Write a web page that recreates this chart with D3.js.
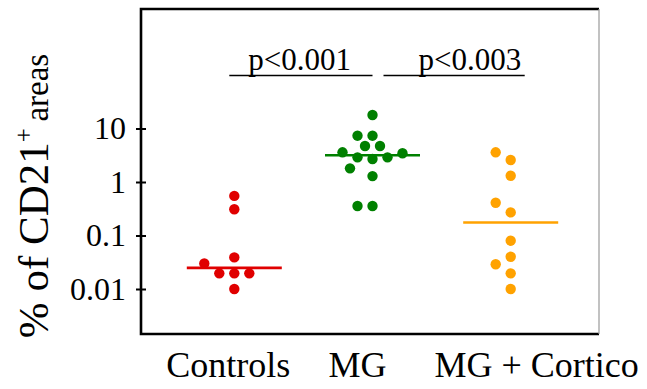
<!DOCTYPE html>
<html>
<head>
<meta charset="utf-8">
<script src="https://cdn.jsdelivr.net/npm/d3@7/dist/d3.min.js"></script>
<style>
  html, body { margin: 0; padding: 0; background: #fff; }
  svg { display: block; }
  text { font-family: "Liberation Serif", "Times New Roman", serif; fill: #000; }
</style>
</head>
<body>
<svg id="chart" width="647" height="389"></svg>
<script>
// ---------- data ----------
const categories = ["Controls", "MG", "MG + Cortico"];
const controlsValues = [0.01, 0.0196, 0.0196, 0.0196, 0.039, 0.030, 0.31, 0.55];
const mgValues = [17.9, 7.34, 7.34, 4.71, 4.71, 2.69, 2.89, 2.89, 3.59, 3.44, 1.80, 1.29, 0.356, 0.356];
const corticoValues = [0.01, 0.0196, 0.029, 0.040, 0.080, 0.27, 0.41, 1.31, 2.58, 3.59];
const seriesColors = ["#e00000", "#008000", "#ffa200"];
const yTickValues = [0.01, 0.1, 1, 10];
const yTickLabels = ["0.01", "0.1", "1", "10"];
const comparisonFrom = ["Controls", "MG"];
const comparisonTo = ["MG", "MG + Cortico"];
const comparisonLabels = ["p<0.001", "p<0.003"];

const groups = [controlsValues, mgValues, corticoValues];

// ---------- layout ----------
const W = 647, H = 389;
const box = { left: 141, top: 9, right: 599, bottom: 334 };
const dotR = 5.2;
const labelDx = [-6, -15, 26];

const svg = d3.select("#chart");
svg.append("rect").attr("width", W).attr("height", H).attr("fill", "#fff");

const x = d3.scalePoint().domain(categories).range([234.3, 510.7]);
const y = d3.scaleLog().domain([0.01, 10]).range([289, 128.5]);

// frame
svg.append("path")
  .attr("d", `M${box.right},${box.top}H${box.left}V${box.bottom}H${box.right}`)
  .attr("fill", "none").attr("stroke", "#000").attr("stroke-width", 2.6);
svg.append("line")
  .attr("x1", box.right).attr("x2", box.right)
  .attr("y1", box.top).attr("y2", box.bottom)
  .attr("stroke", "#999").attr("stroke-width", 1.2);

// y axis ticks (crossing the frame)
const yAxis = d3.axisLeft(y)
  .tickValues(yTickValues)
  .tickFormat((d, i) => yTickLabels[i])
  .tickSize(10)
  .tickPadding(10);
const gy = svg.append("g").attr("transform", `translate(${box.left + 5},0)`).call(yAxis);
gy.select(".domain").remove();
gy.selectAll(".tick line").attr("stroke", "#000").attr("stroke-width", 2);
gy.selectAll(".tick text")
  .attr("font-family", "'Liberation Serif', 'Times New Roman', serif")
  .attr("font-size", 32).attr("fill", "#000");

// y label
const ylab = svg.append("text")
  .attr("transform", `translate(48,${196}) rotate(-90)`)
  .attr("text-anchor", "middle");
ylab.append("tspan").attr("font-size", 43).text("% of CD21");
ylab.append("tspan").attr("font-size", 25).attr("dy", -16).text("+");
ylab.append("tspan").attr("font-size", 33).attr("dy", 16).text("\u2009areas");

// category labels
svg.append("g").selectAll("text").data(categories).join("text")
  .attr("x", (d, i) => x(d) + labelDx[i])
  .attr("y", 377)
  .attr("text-anchor", "middle")
  .attr("font-size", 36)
  .text(d => d);

// beeswarm-style dodge: greedy placement in data order
function dodge(values, step, minDist) {
  const placed = [];
  const offsets = [0];
  for (let k = 1; k <= 8; k++) { offsets.push(-k * step, k * step); }
  values.forEach(v => {
    const py = y(v);
    for (const o of offsets) {
      const ok = placed.every(p => Math.hypot(p.dx - o, p.py - py) >= minDist);
      if (ok) { placed.push({ v, py, dx: o }); break; }
    }
  });
  return placed;
}

groups.forEach((vals, gi) => {
  const cx = x(categories[gi]);
  const col = seriesColors[gi];
  const med = d3.median(vals);
  svg.append("line")
    .attr("x1", cx - 47.5).attr("x2", cx + 47.5)
    .attr("y1", y(med)).attr("y2", y(med))
    .attr("stroke", col).attr("stroke-width", 2.6);
  const pts = dodge(vals, 7.5, 12.5);
  svg.append("g").selectAll("circle").data(pts).join("circle")
    .attr("cx", d => cx + d.dx)
    .attr("cy", d => d.py)
    .attr("r", dotR)
    .attr("fill", col);
});

// significance brackets
const bracketY = 75.5;
const startAdj = [-5, 11];
const endAdj = [0, 14];
const textAdj = [19, 35];
comparisonLabels.forEach((lab, i) => {
  const x1 = x(comparisonFrom[i]) + startAdj[i];
  const x2 = x(comparisonTo[i]) + endAdj[i];
  svg.append("line")
    .attr("x1", x1).attr("x2", x2)
    .attr("y1", bracketY).attr("y2", bracketY)
    .attr("stroke", "#000").attr("stroke-width", 1.6);
  svg.append("text")
    .attr("x", x1 + textAdj[i]).attr("y", 70)
    .attr("font-size", 31)
    .text(lab);
});
</script>
</body>
</html>
